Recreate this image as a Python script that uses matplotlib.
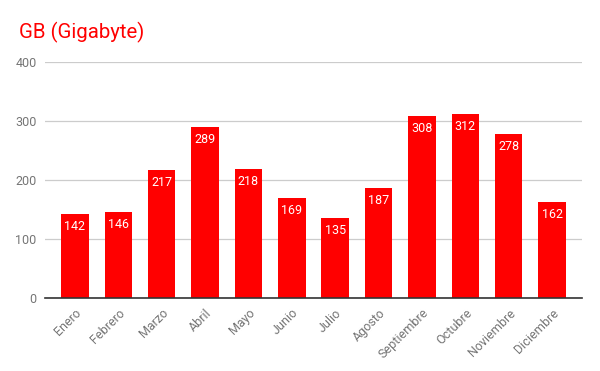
import matplotlib
matplotlib.use("Agg")
import matplotlib.pyplot as plt

months = ["Enero", "Febrero", "Marzo", "Abril", "Mayo", "Junio", "Julio",
          "Agosto", "Septiembre", "Octubre", "Noviembre", "Diciembre"]
values = [142, 146, 217, 289, 218, 169, 135, 187, 308, 312, 278, 162]
yticks = [0, 100, 200, 300, 400]

plt.rcParams['font.family'] = ['Roboto', 'DejaVu Sans']

fig = plt.figure(figsize=(6, 3.71), dpi=100)
ax = fig.add_axes([0.075, 0.1968, 0.895, 0.6361])

x = list(range(len(months)))
bars = ax.bar(x, values, width=0.634, color="#ff0000", zorder=3)
for xi, v in zip(x, values):
    ax.annotate(str(v), (xi, v), xytext=(0, -9), textcoords="offset points",
                ha="center", va="center", color="white", fontsize=9, zorder=4)

ax.set_xlim(-0.69, 11.69)
ax.set_ylim(0, 400)
ax.set_yticks(yticks)
ax.set_yticklabels([str(t) for t in yticks])
ax.set_xticks(x)
ax.set_xticklabels(months, rotation=45, ha="right", rotation_mode="anchor")
ax.tick_params(axis="both", length=0, colors="#757575", labelsize=9)
ax.tick_params(axis="y", pad=6)
ax.tick_params(axis="x", pad=6)
ax.grid(axis="y", color="#cccccc", linewidth=0.9, zorder=0)
for s in ["top", "right", "left"]:
    ax.spines[s].set_visible(False)
ax.spines["bottom"].set_color("#333333")
ax.spines["bottom"].set_linewidth(1.2)
ax.spines["bottom"].set_zorder(5)

fig.text(19/600, 1 - 32/371, "GB (Gigabyte)", color="#ff0000", fontsize=14.7,
         ha="left", va="center")

fig.savefig("out.png", dpi=100)
